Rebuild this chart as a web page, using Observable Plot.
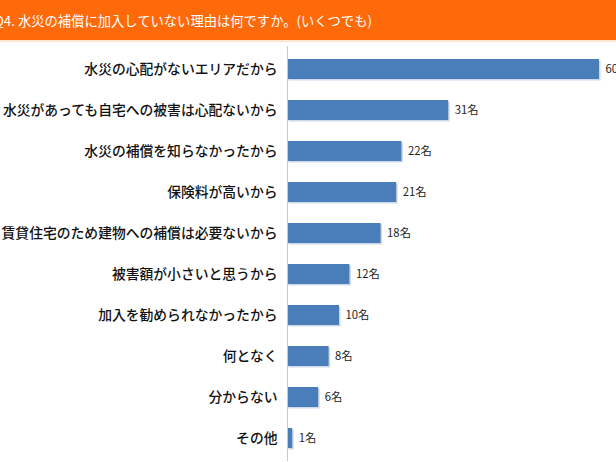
<!DOCTYPE html>
<html><head><meta charset="utf-8">
<script src="https://cdn.jsdelivr.net/npm/d3@7"></script>
<script src="https://cdn.jsdelivr.net/npm/@observablehq/plot@0.6"></script>
<style>
html,body{margin:0;padding:0;background:#fff;overflow:hidden;width:616px;height:462px;}
#hdr{position:relative;height:40px;background:#fe6a0a;border-bottom:2px solid #fbe4d0;overflow:hidden;}
#hdr span{position:absolute;left:-6px;top:11px;color:#fff;font:400 13.3px "Noto Sans CJK JP",sans-serif;white-space:nowrap;}
#chart svg{overflow:visible;display:block;}
</style></head>
<body>
<div id="hdr"><span id="title"></span></div>
<div id="chart"></div>
<script>
const title = "Q4. 水災の補償に加入していない理由は何ですか。(いくつでも)";
const reasons = [
  "水災の心配がないエリアだから",
  "水災があっても自宅への被害は心配ないから",
  "水災の補償を知らなかったから",
  "保険料が高いから",
  "賃貸住宅のため建物への補償は必要ないから",
  "被害額が小さいと思うから",
  "加入を勧められなかったから",
  "何となく",
  "分からない",
  "その他"
];
const counts = [60, 31, 22, 21, 18, 12, 10, 8, 6, 1];
const unit = "名";

document.getElementById("title").textContent = title;
const data = reasons.map((r, i) => ({reason: r, count: counts[i]}));

const chart = Plot.plot({
  width: 616,
  height: 420,
  marginTop: 4,
  marginBottom: 1,
  marginLeft: 287,
  marginRight: 0,
  style: {fontFamily: '"Noto Sans CJK JP", sans-serif', background: "#fff", overflow: "visible"},
  x: {domain: [0, 60], range: [287, 599], axis: null},
  y: {domain: reasons, paddingInner: 0.52, paddingOuter: 0.26, label: null},
  marks: [
    Plot.barX(data, {y: "reason", x: "count", fill: "#cdd9e8", dx: 1.5, dy: 1.5}),
    Plot.barX(data, {y: "reason", x: "count", fill: "#4a7ebb"}),
    Plot.ruleX([0], {stroke: "#c8c8c8"}),
    Plot.text(data, {y: "reason", x: "count", text: d => d.count + unit, textAnchor: "start", dx: 6, fontSize: 11.3, fill: "#222"}),
    Plot.axisY({tickSize: 0, tickPadding: 10, fontSize: 13.8, fontWeight: 500, fill: "#111", label: null})
  ]
});
document.getElementById("chart").appendChild(chart);
</script>
</body></html>
